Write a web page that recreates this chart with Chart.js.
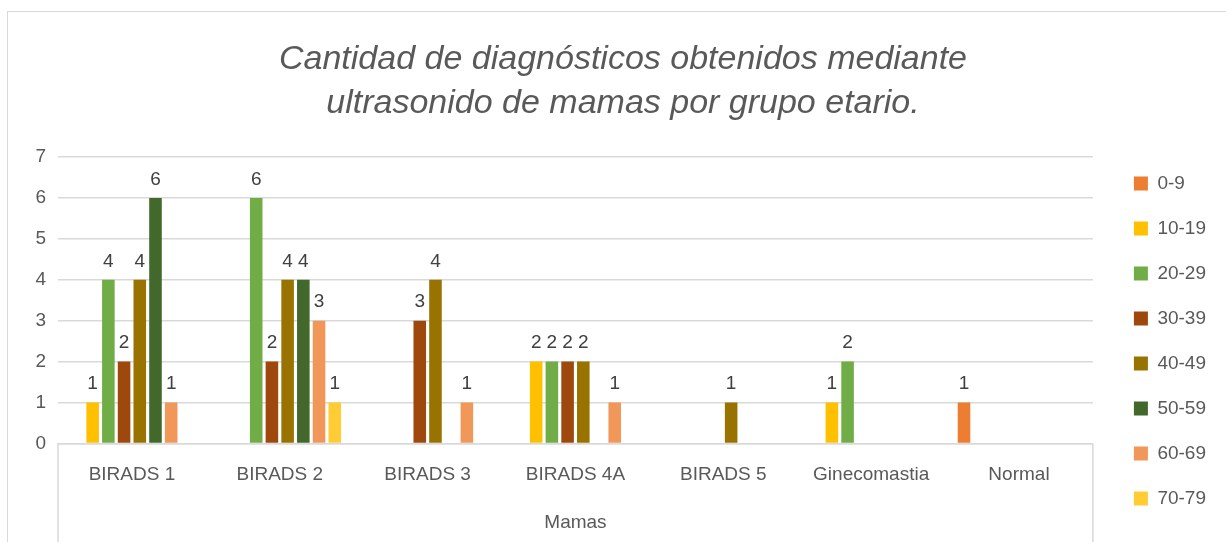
<!DOCTYPE html>
<html lang="es">
<head>
<meta charset="UTF-8">
<title>Diagnósticos por grupo etario</title>
<script src="https://cdn.jsdelivr.net/npm/chart.js"></script>
<style>
    body { margin: 0; background: #fff; }
    .marco {
        position: absolute; left: 7px; top: 11px;
        width: 1219px; height: 531px;
        border-top: 1px solid #d9d9d9; border-left: 1px solid #d9d9d9;
    }
</style>
</head>
<body>
<div class="marco"><canvas id="grafico"></canvas></div>
<script>
    // datos
    const categorias = ["BIRADS 1", "BIRADS 2", "BIRADS 3", "BIRADS 4A", "BIRADS 5", "Ginecomastia", "Normal"];
    const grupos = ["0-9", "10-19", "20-29", "30-39", "40-49", "50-59", "60-69", "70-79"];
    const g0_9   = [null, null, null, null, null, null, 1];
    const g10_19 = [1, null, null, 2, null, 1, null];
    const g20_29 = [4, 6, null, 2, null, 2, null];
    const g30_39 = [2, 2, 3, 2, null, null, null];
    const g40_49 = [4, 4, 4, 2, 1, null, null];
    const g50_59 = [6, 4, null, null, null, null, null];
    const g60_69 = [1, 3, 1, 1, null, null, null];
    const g70_79 = [null, 1, null, null, null, null, null];
    const ticksY = [0, 1, 2, 3, 4, 5, 6, 7];

    const series = [g0_9, g10_19, g20_29, g30_39, g40_49, g50_59, g60_69, g70_79];
    const colores = ["#ED7D31", "#FFC000", "#70AD47", "#9E480E", "#997300", "#43682B", "#F1975A", "#FFCD33"];
    const gris = "#595959";
    const fuente = "'Liberation Sans', Arial, sans-serif";

    // etiquetas de valor encima de cada barra
    const etiquetas = {
        id: "etiquetas",
        afterDatasetsDraw(chart) {
            const ctx = chart.ctx;
            ctx.save();
            ctx.font = "19px " + fuente;
            ctx.fillStyle = "#404040";
            ctx.textAlign = "center";
            ctx.textBaseline = "bottom";
            chart.data.datasets.forEach((ds, i) => {
                chart.getDatasetMeta(i).data.forEach((bar, j) => {
                    if (ds.data[j] == null) return;
                    ctx.fillText(ds.data[j], bar.x, bar.y - 9);
                });
            });
            ctx.restore();
        }
    };

    // caja de las etiquetas del eje x
    const cajaEje = {
        id: "cajaEje",
        afterDraw(chart) {
            const a = chart.chartArea, ctx = chart.ctx;
            ctx.save();
            ctx.strokeStyle = "#d9d9d9";
            ctx.lineWidth = 1.5;
            ctx.beginPath();
            ctx.moveTo(a.left, a.bottom); ctx.lineTo(a.left, chart.height);
            ctx.moveTo(a.right, a.bottom); ctx.lineTo(a.right, chart.height);
            ctx.stroke();
            ctx.restore();
        }
    };

    new Chart(document.getElementById("grafico"), {
        type: "bar",
        data: {
            labels: categorias,
            datasets: grupos.map((g, i) => ({
                label: g,
                data: series[i],
                backgroundColor: colores[i],
                categoryPercentage: 0.85,
                barPercentage: 0.8
            }))
        },
        options: {
            responsive: true,
            maintainAspectRatio: false,
            animation: false,
            layout: { padding: { top: 0, right: 11, bottom: 9, left: 22 } },
            plugins: {
                legend: {
                    position: "right",
                    align: "end",
                    labels: {
                        boxWidth: 14, boxHeight: 14, padding: 26,
                        color: gris, font: { size: 19, family: fuente }
                    }
                },
                title: {
                    display: true,
                    text: ["Cantidad de diagnósticos obtenidos mediante", "ultrasonido de mamas por grupo etario."],
                    color: gris,
                    font: { size: 34, style: "italic", family: fuente, weight: "normal", lineHeight: 1.28 },
                    padding: { top: 26, bottom: 32 }
                },
                tooltip: { enabled: false }
            },
            scales: {
                x: {
                    grid: { display: false },
                    border: { color: "#d9d9d9", width: 1.5 },
                    ticks: { color: gris, font: { size: 19, family: fuente }, padding: 12 },
                    title: { display: true, text: "Mamas", color: gris, font: { size: 19, family: fuente }, padding: { top: 13, bottom: 0 } }
                },
                y: {
                    min: 0, max: 7,
                    afterBuildTicks(s) { s.ticks = ticksY.map(v => ({ value: v })); },
                    afterFit(s) { s.width = 28; },
                    grid: { color: "#d9d9d9", lineWidth: 1.5, drawTicks: false },
                    border: { display: false },
                    ticks: { color: gris, font: { size: 19, family: fuente }, padding: 12 }
                },
                // eje vacio: solo deja espacio entre el grafico y la leyenda
                hueco: {
                    position: "right",
                    afterFit(s) { s.width = 15; },
                    grid: { display: false },
                    border: { display: false },
                    ticks: { display: false }
                }
            }
        },
        plugins: [etiquetas, cajaEje]
    });
</script>
</body>
</html>
